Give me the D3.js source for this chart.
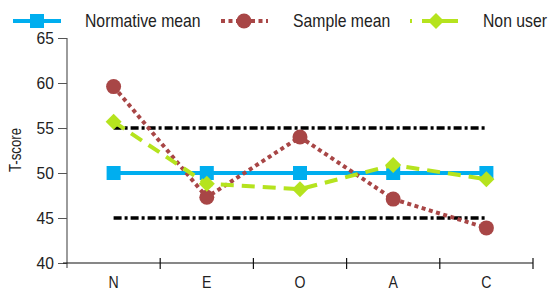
<!DOCTYPE html>
<html><head><meta charset="utf-8">
<script src="https://cdn.jsdelivr.net/npm/d3@7"></script>
<style>body{margin:0;background:#fff}svg{display:block}text{font-family:"Liberation Sans",Arial,sans-serif}</style>
</head><body>
<svg id="c" width="548" height="291"></svg>
<script>
const categories = ["N","E","O","A","C"];
const normativeMean = [50,50,50,50,50];
const sampleMean = [59.6,47.3,54.0,47.1,43.9];
const nonUser = [55.7,48.8,48.2,50.9,49.3];
const upperBand = [55,55,55,55,55];
const lowerBand = [45,45,45,45,45];
const yTicks = [40,45,50,55,60,65];

const svg = d3.select("#c");
const x = d3.scaleBand().domain(categories).range([67,533]);
const y = d3.scaleLinear().domain([40,65]).range([263,38]);
const cx = d => x(d) + x.bandwidth()/2;
const SX = 0.83; // condensed look

// y axis
const ya = svg.append("g").attr("transform","translate(67,0)")
  .call(d3.axisLeft(y).tickValues(yTicks).tickSize(9));
ya.select(".domain").attr("d","M0,38V268").attr("stroke","#666").attr("stroke-width",1.3);
ya.selectAll(".tick line").attr("stroke","#555");
ya.selectAll(".tick text").remove();
svg.append("g").selectAll("text").data(yTicks).join("text")
  .attr("transform",d=>`translate(54,${y(d)+6}) scale(0.92,1)`)
  .attr("text-anchor","end").attr("font-size",17).attr("fill","#222").text(d=>d);

// x axis
const xa = svg.append("g").attr("transform","translate(0,263)")
  .call(d3.axisBottom(x).tickSize(0));
xa.select(".domain").attr("d","M63,0H533").attr("stroke","#111").attr("stroke-width",1.2);
xa.selectAll(".tick text").remove();
svg.append("g").selectAll("text").data(categories).join("text")
  .attr("transform",d=>`translate(${cx(d)},288) scale(${SX},1)`)
  .attr("text-anchor","middle").attr("font-size",17).attr("fill","#222").text(d=>d);
const bounds = categories.slice(1).map(c => x(c)).concat([x.range()[1]]);
svg.append("g").selectAll("line").data(bounds).join("line")
  .attr("x1",d=>d).attr("x2",d=>d).attr("y1",258).attr("y2",269)
  .attr("stroke","#111").attr("stroke-width",1.2);

svg.append("text").attr("transform",`translate(21,150) rotate(-90) scale(${SX},1)`)
  .attr("text-anchor","middle").attr("font-size",16).attr("fill","#222").text("T-score");

const line = d3.line().x((d,i)=>cx(categories[i])).y(d=>y(d));

// reference bands
[upperBand, lowerBand].forEach(b => {
  svg.append("path").attr("d",line(b)).attr("fill","none")
    .attr("stroke","#000").attr("stroke-width",3.5).attr("stroke-dasharray","8,3,3,3");
});

// normative
svg.append("path").attr("d",line(normativeMean)).attr("fill","none")
  .attr("stroke","#00aeef").attr("stroke-width",4);
svg.append("g").selectAll("rect").data(normativeMean).join("rect")
  .attr("x",(d,i)=>cx(categories[i])-7).attr("y",d=>y(d)-7)
  .attr("width",14).attr("height",14).attr("fill","#00aeef");

// sample
svg.append("path").attr("d",line(sampleMean)).attr("fill","none")
  .attr("stroke","#a84646").attr("stroke-width",4).attr("stroke-dasharray","4,3.5");
svg.append("g").selectAll("circle").data(sampleMean).join("circle")
  .attr("cx",(d,i)=>cx(categories[i])).attr("cy",d=>y(d)).attr("r",7.5).attr("fill","#a84646");

// non user
svg.append("path").attr("d",line(nonUser)).attr("fill","none")
  .attr("stroke","#b5e31e").attr("stroke-width",4).attr("stroke-dasharray","13,8");
svg.append("g").selectAll("path").data(nonUser).join("path")
  .attr("d",(d,i)=>{const px=cx(categories[i]),py=y(d);return `M${px},${py-8}L${px+8},${py}L${px},${py+8}L${px-8},${py}Z`;})
  .attr("fill","#b5e31e");

// legend
const lg = svg.append("g");
const ltext = (x0,t)=>lg.append("text").attr("transform",`translate(${x0},27) scale(${SX},1)`)
  .attr("font-size",19).attr("fill","#222").text(t);
lg.append("line").attr("x1",13).attr("x2",61).attr("y1",21).attr("y2",21).attr("stroke","#00aeef").attr("stroke-width",4);
lg.append("rect").attr("x",30).attr("y",14).attr("width",14).attr("height",14).attr("fill","#00aeef");
ltext(85,"Normative mean");
lg.append("line").attr("x1",221).attr("x2",268).attr("y1",21).attr("y2",21).attr("stroke","#a84646").attr("stroke-width",4).attr("stroke-dasharray","4,3.5");
lg.append("circle").attr("cx",244).attr("cy",21).attr("r",7.5).attr("fill","#a84646");
ltext(293,"Sample mean");
lg.append("line").attr("x1",410).attr("x2",458).attr("y1",21).attr("y2",21).attr("stroke","#b5e31e").attr("stroke-width",4).attr("stroke-dasharray","2,10,36,10");
lg.append("path").attr("d","M436,13L444,21L436,29L428,21Z").attr("fill","#b5e31e");
ltext(483,"Non user");
</script>
</body></html>
